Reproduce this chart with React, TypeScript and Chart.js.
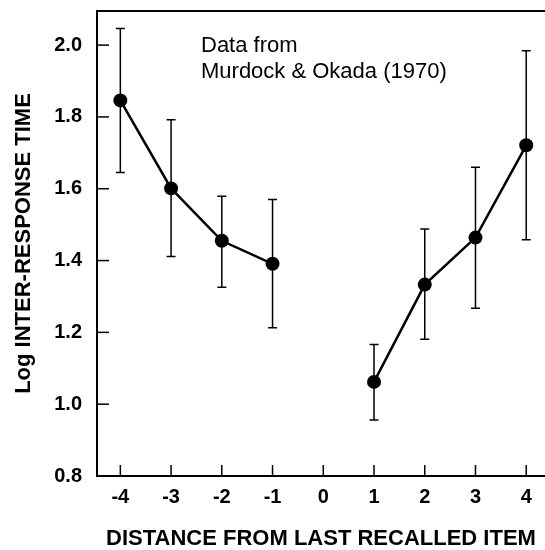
import { useEffect, useRef } from "react";
import { Chart, registerables } from "chart.js";

Chart.register(...registerables);

const DISTANCES = [-4, -3, -2, -1, 0, 1, 2, 3, 4];
const MEAN_LOG_IRT = [1.846, 1.601, 1.455, 1.391, null, 1.062, 1.333, 1.464, 1.721];
const ERR_UPPER = [2.046, 1.792, 1.579, 1.57, null, 1.166, 1.488, 1.66, 1.984];
const ERR_LOWER = [1.645, 1.411, 1.326, 1.213, null, 0.956, 1.181, 1.267, 1.458];
const X_TICKS = [-4, -3, -2, -1, 0, 1, 2, 3, 4];
const Y_TICKS = [0.8, 1.0, 1.2, 1.4, 1.6, 1.8, 2.0];
const NOTE_LINES = ["Data from", "Murdock & Okada (1970)"];
const X_TITLE = "DISTANCE FROM LAST RECALLED ITEM";
const Y_TITLE = "Log INTER-RESPONSE TIME";

const FONT = "'Liberation Sans', Arial, Helvetica, sans-serif";

const framePlugin = {
  id: "frameAndErrors",
  beforeDatasetsDraw(chart: any) {
    const { ctx, chartArea, scales } = chart;
    const xs = scales.x;
    const ys = scales.y;
    ctx.save();
    ctx.strokeStyle = "#000";
    // top frame line
    ctx.lineWidth = 2;
    ctx.beginPath();
    ctx.moveTo(chartArea.left, chartArea.top);
    ctx.lineTo(chartArea.right, chartArea.top);
    ctx.stroke();
    // inward tick marks
    ctx.lineWidth = 1.5;
    X_TICKS.forEach((v) => {
      const px = xs.getPixelForValue(v);
      ctx.beginPath();
      ctx.moveTo(px, chartArea.bottom);
      ctx.lineTo(px, chartArea.bottom - 11);
      ctx.stroke();
    });
    Y_TICKS.forEach((v) => {
      const py = ys.getPixelForValue(v);
      ctx.beginPath();
      ctx.moveTo(chartArea.left, py);
      ctx.lineTo(chartArea.left + 12, py);
      ctx.stroke();
    });
    // error bars
    ctx.lineWidth = 1.5;
    DISTANCES.forEach((d, i) => {
      const hi = ERR_UPPER[i];
      const lo = ERR_LOWER[i];
      if (hi == null || lo == null) return;
      const px = xs.getPixelForValue(d);
      const pHi = ys.getPixelForValue(hi);
      const pLo = ys.getPixelForValue(lo);
      ctx.beginPath();
      ctx.moveTo(px, pHi);
      ctx.lineTo(px, pLo);
      ctx.moveTo(px - 4.5, pHi);
      ctx.lineTo(px + 4.5, pHi);
      ctx.moveTo(px - 4.5, pLo);
      ctx.lineTo(px + 4.5, pLo);
      ctx.stroke();
    });
    ctx.restore();
  },
  afterDraw(chart: any) {
    const { ctx, chartArea } = chart;
    ctx.save();
    ctx.fillStyle = "#000";
    ctx.font = `22px ${FONT}`;
    ctx.textAlign = "left";
    ctx.textBaseline = "middle";
    NOTE_LINES.forEach((t, i) => {
      ctx.fillText(t, chartArea.left + 104, chartArea.top + 34.5 + i * 26);
    });
    ctx.restore();
  },
};

export default function App() {
  const ref = useRef<HTMLCanvasElement | null>(null);

  useEffect(() => {
    if (!ref.current) return;
    const chart = new Chart(ref.current, {
      type: "line",
      data: {
        datasets: [
          {
            data: DISTANCES.map((x, i) => ({ x, y: MEAN_LOG_IRT[i] as any })),
            borderColor: "#000",
            borderWidth: 2.5,
            pointRadius: 7,
            pointBackgroundColor: "#000",
            pointBorderColor: "#000",
            pointBorderWidth: 0,
            spanGaps: false,
            tension: 0,
            fill: false,
            clip: false as any,
          },
        ],
      },
      options: {
        responsive: false,
        animation: false,
        layout: { autoPadding: false, padding: { top: 11, left: 0, right: 0, bottom: 0 } },
        plugins: {
          legend: { display: false },
          tooltip: { enabled: false },
        },
        scales: {
          x: {
            type: "linear",
            min: -4.46,
            max: 4.37,
            afterBuildTicks: (s: any) => {
              s.ticks = X_TICKS.map((v) => ({ value: v }));
            },
            afterFit: (s: any) => {
              s.height = 74;
              s.paddingLeft = 0;
              s.paddingRight = 0;
            },
            grid: { display: false, drawTicks: false },
            border: { display: true, color: "#000", width: 2 },
            ticks: {
              color: "#000",
              padding: 11,
              maxRotation: 0,
              autoSkip: false,
              font: { family: FONT, size: 20, weight: "bold", lineHeight: 1 },
              callback: (v: any) => String(v),
            },
            title: {
              display: true,
              text: X_TITLE,
              color: "#000",
              font: { family: FONT, size: 22, weight: "bold", lineHeight: 1 },
              padding: { top: 0, bottom: 0 },
            },
          },
          y: {
            type: "linear",
            min: 0.8,
            max: 2.095,
            afterBuildTicks: (s: any) => {
              s.ticks = Y_TICKS.map((v) => ({ value: v }));
            },
            afterFit: (s: any) => {
              s.width = 97;
              s.paddingTop = 0;
              s.paddingBottom = 0;
            },
            grid: { display: false, drawTicks: false },
            border: { display: true, color: "#000", width: 2 },
            ticks: {
              color: "#000",
              padding: 15,
              font: { family: FONT, size: 20, weight: "bold", lineHeight: 1 },
              callback: (v: any) => Number(v).toFixed(1),
            },
            title: {
              display: true,
              text: Y_TITLE,
              color: "#000",
              font: { family: FONT, size: 22, weight: "bold", lineHeight: 1 },
              padding: { top: 13, bottom: 0 },
            },
          },
        },
      },
      plugins: [framePlugin],
    });
    return () => chart.destroy();
  }, []);

  return (
    <div
      style={{
        position: "fixed",
        left: 0,
        top: 0,
        width: 545,
        height: 550,
        overflow: "hidden",
        background: "#fff",
      }}
    >
      <canvas ref={ref} width={545} height={550} style={{ display: "block" }} />
    </div>
  );
}
